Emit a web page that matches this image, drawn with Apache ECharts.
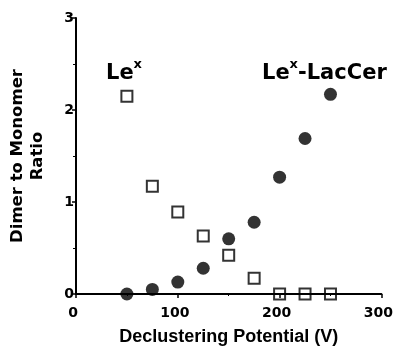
<!DOCTYPE html>
<html>
<head>
<meta charset="utf-8">
<script src="https://cdn.jsdelivr.net/npm/echarts@6/dist/echarts.min.js"></script>
<style>
  html, body { margin: 0; padding: 0; background: #fff; }
  #chart { width: 396px; height: 351px; }
</style>
</head>
<body>
<div id="chart"></div>
<script>
const potentials = [50, 75, 100, 125, 150, 175, 200, 225, 250];
const lexRatio = [2.15, 1.17, 0.89, 0.63, 0.42, 0.17, 0, 0, 0];
const lexLacCerRatio = [0, 0.05, 0.13, 0.28, 0.60, 0.78, 1.27, 1.69, 2.17];
const xTicks = [0, 100, 200, 300];
const yTicks = [0, 1, 2, 3];

const chart = echarts.init(document.getElementById('chart'));

const tickFont = {
    fontFamily: 'DejaVu Sans',
    fontWeight: 'bold',
    fontSize: 14,
    color: '#000'
};

const option = {
    animation: false,
    grid: { left: 72, right: 12, top: 18, bottom: 54 },
    xAxis: {
        type: 'value',
        min: xTicks[0],
        max: xTicks[xTicks.length - 1],
        interval: 100,
        name: 'Declustering Potential (V)',
        nameLocation: 'middle',
        nameGap: 34,
        nameTextStyle: {
            fontFamily: 'Liberation Sans',
            fontWeight: 'bold',
            fontSize: 18,
            color: '#000'
        },
        axisLine: { lineStyle: { color: '#000', width: 2 } },
        axisTick: { length: 4, lineStyle: { color: '#000', width: 1.5 } },
        minorTick: { show: true, splitNumber: 2, length: 2, lineStyle: { color: '#000' } },
        splitLine: { show: false },
        axisLabel: { ...tickFont, margin: 12, padding: [0, 6, 0, 0] }
    },
    yAxis: {
        type: 'value',
        min: yTicks[0],
        max: yTicks[yTicks.length - 1],
        interval: 1,
        name: 'Dimer to Monomer\nRatio',
        nameLocation: 'middle',
        nameGap: 28,
        nameRotate: 90,
        nameTextStyle: {
            fontFamily: 'DejaVu Sans',
            fontWeight: 'bold',
            fontSize: 16.5,
            lineHeight: 20,
            color: '#000'
        },
        axisLine: { show: true, lineStyle: { color: '#000', width: 2 } },
        axisTick: { show: true, length: 4, lineStyle: { color: '#000', width: 1.5 } },
        minorTick: { show: true, splitNumber: 2, length: 3, lineStyle: { color: '#000' } },
        splitLine: { show: false },
        axisLabel: { ...tickFont, margin: 2 }
    },
    graphic: [
        {
            type: 'text',
            left: 106,
            top: 58,
            style: {
                text: '{m|Le}{s|x}',
                rich: {
                    m: { fontFamily: 'DejaVu Sans', fontWeight: 'bold', fontSize: 21, fill: '#000', verticalAlign: 'bottom', lineHeight: 26 },
                    s: { fontFamily: 'DejaVu Sans', fontWeight: 'bold', fontSize: 13, fill: '#000', verticalAlign: 'top', lineHeight: 26 }
                }
            }
        },
        {
            type: 'text',
            left: 262,
            top: 58,
            style: {
                text: '{m|Le}{s|x}{m|-LacCer}',
                rich: {
                    m: { fontFamily: 'DejaVu Sans', fontWeight: 'bold', fontSize: 21, fill: '#000', verticalAlign: 'bottom', lineHeight: 26 },
                    s: { fontFamily: 'DejaVu Sans', fontWeight: 'bold', fontSize: 13, fill: '#000', verticalAlign: 'top', lineHeight: 26 }
                }
            }
        }
    ],
    series: [
        {
            name: 'Lex',
            type: 'scatter',
            symbol: 'rect',
            symbolSize: 11,
            itemStyle: { color: 'transparent', borderColor: '#000', borderWidth: 2 },
            data: potentials.map((x, i) => [x, lexRatio[i]])
        },
        {
            name: 'Lex-LacCer',
            type: 'scatter',
            symbol: 'circle',
            symbolSize: 13,
            itemStyle: { color: '#000' },
            data: potentials.map((x, i) => [x, lexLacCerRatio[i]])
        }
    ]
};

chart.setOption(option);
</script>
</body>
</html>
